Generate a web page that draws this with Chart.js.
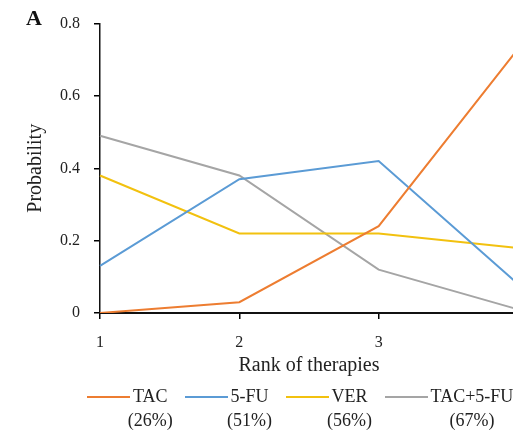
<!DOCTYPE html>
<html>
<head>
<meta charset="utf-8">
<script src="https://cdn.jsdelivr.net/npm/chart.js@4/dist/chart.umd.min.js"></script>
<style>
    html, body { margin: 0; padding: 0; background: #fff; }
    #wrap { position: relative; width: 513px; height: 432px; overflow: hidden; }
    #chartBox { position: absolute; left: 0; top: 0; width: 540px; height: 432px; }
    #panel { position: absolute; left: 26px; top: 5px; font: bold 22px "Liberation Serif", serif; color: #111; }
    #legend { position: absolute; left: 87px; top: 386px; display: flex; gap: 17px; white-space: nowrap;
              font: 18px "Liberation Serif", serif; color: #222; }
    .item { display: flex; align-items: center; gap: 3px; }
    .swatch { width: 43px; height: 2px; }
    .name { position: relative; }
    .pct { position: absolute; left: 50%; top: 24px; transform: translateX(-50%); }
</style>
</head>
<body>
<div id="wrap">
    <div id="chartBox"><canvas id="rankChart" width="540" height="432"></canvas></div>
    <div id="panel">A</div>
    <div id="legend"></div>
</div>
<script>
// ranks on the x axis
const ranks = ['1', '2', '3', '4'];
// series names, shares under the legend
const therapies = ['TAC', '5-FU', 'VER', 'TAC+5-FU'];
const shares = ['(26%)', '(51%)', '(56%)', '(67%)'];
// probability of each rank
const tacValues = [0, 0.03, 0.24, 0.73];
const fuValues = [0.13, 0.37, 0.42, 0.08];
const verValues = [0.38, 0.22, 0.22, 0.18];
const comboValues = [0.49, 0.38, 0.12, 0.01];
const yTicks = [0, 0.2, 0.4, 0.6, 0.8];

const colors = ['#ED7D31', '#5B9BD5', '#F2C10F', '#A5A5A5'];
const seriesValues = [tacValues, fuValues, verValues, comboValues];

const serif = '"Liberation Serif", "Times New Roman", serif';

const rankData = {
    labels: ranks,
    datasets: therapies.map((name, i) => ({
        label: name,
        data: seriesValues[i],
        borderColor: colors[i],
        backgroundColor: colors[i],
        borderWidth: 2,
        pointRadius: 0,
        tension: 0,
        fill: false,
    })),
};

const ctx = document.getElementById('rankChart').getContext('2d');
const rankChart = new Chart(ctx, {
    type: 'line',
    data: rankData,
    options: {
        responsive: false,
        animation: false,
        devicePixelRatio: 1,
        // rank 4 sits just past the right edge, like in the cropped figure
        layout: { padding: { top: 16, right: 22, bottom: 49, left: 0 } },
        plugins: { legend: { display: false }, tooltip: { enabled: false } },
        scales: {
            x: {
                offset: false,
                afterFit: scale => { scale.height = 70; },
                grid: { drawOnChartArea: false, drawTicks: true, tickLength: 6, color: '#000', lineWidth: 1.5 },
                border: { display: true, color: '#111', width: 2 },
                ticks: { color: '#222', font: { family: serif, size: 16 }, padding: 14, maxRotation: 0 },
                title: { display: true, text: 'Rank of therapies', color: '#222',
                         font: { family: serif, size: 20 }, padding: { top: 0, bottom: 5 } },
            },
            y: {
                min: 0,
                max: 0.8,
                afterFit: scale => { scale.width = 100; },
                afterBuildTicks: scale => { scale.ticks = yTicks.map(v => ({ value: v })); },
                grid: { drawOnChartArea: false, drawTicks: true, tickLength: 6, color: '#000', lineWidth: 1.5 },
                border: { display: true, color: '#111', width: 1.5 },
                ticks: { color: '#222', font: { family: serif, size: 16 }, padding: 14,
                         callback: v => v === 0 ? '0' : v.toFixed(1) },
                title: { display: true, text: 'Probability', color: '#222',
                         font: { family: serif, size: 20 }, padding: { top: 24, bottom: 0 } },
            },
        },
    },
});

// legend below the axis, with the share under each name
const legendBox = document.getElementById('legend');
therapies.forEach((name, i) => {
    const item = document.createElement('div');
    item.className = 'item';
    const swatch = document.createElement('span');
    swatch.className = 'swatch';
    swatch.style.background = colors[i];
    const label = document.createElement('span');
    label.className = 'name';
    label.textContent = name;
    const pct = document.createElement('span');
    pct.className = 'pct';
    pct.textContent = shares[i];
    label.appendChild(pct);
    item.append(swatch, label);
    legendBox.appendChild(item);
});
</script>
</body>
</html>
